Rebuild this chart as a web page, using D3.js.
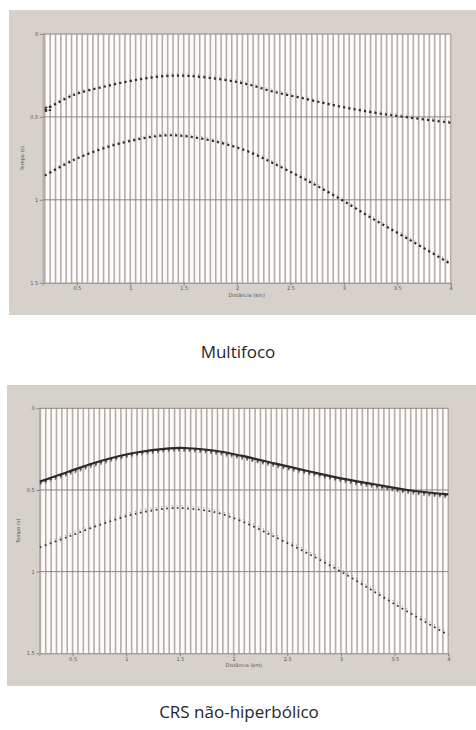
<!DOCTYPE html>
<html>
<head>
<meta charset="utf-8">
<script src="https://cdn.jsdelivr.net/npm/d3@7"></script>
<style>
  html, body { margin: 0; padding: 0; background: #fff; }
  svg { display: block; }
</style>
</head>
<body>
<svg id="chart" width="476" height="730"></svg>
<script>
// ---------- data ----------
const xTicks = [0.5, 1, 1.5, 2, 2.5, 3, 3.5, 4];
const xTickLabels = ["0.5", "1", "1.5", "2", "2.5", "3", "3.5", "4"];
const yTicks = [0, 0.5, 1, 1.5];
const yTickLabels = ["0", "0.5", "1", "1.5"];
const traceStep = 0.05;          // trace spacing (km)
const traceStart = 0.2;
const traceEnd = 4.0;

// Multifoco (top panel)
const mfDist  = [0.2, 0.47, 0.78, 1.09, 1.34, 1.55, 1.84, 2.09, 2.34, 2.66, 2.97, 3.28, 3.59, 4.0];
const mfUpper = [0.458, 0.368, 0.314, 0.273, 0.253, 0.253, 0.273, 0.302, 0.348, 0.394, 0.438, 0.474, 0.502, 0.535];
const mfLower = [0.854, 0.760, 0.683, 0.633, 0.611, 0.619, 0.655, 0.705, 0.780, 0.885, 0.997, 1.118, 1.232, 1.387];
// short extra event marks near the left end of the upper Multifoco curve
const mfExtraDist = [0.2, 0.26];
const mfExtraVals = [0.445, 0.438];

// CRS não-hiperbólico (bottom panel)
const crsDist  = [0.195, 0.46, 0.77, 1.08, 1.40, 1.55, 1.83, 2.07, 2.38, 2.69, 3.0, 3.31, 3.62, 4.0];
const crsUpper = [0.449, 0.388, 0.321, 0.272, 0.245, 0.243, 0.260, 0.290, 0.337, 0.384, 0.429, 0.465, 0.500, 0.527];
const crsLower = [0.851, 0.786, 0.710, 0.647, 0.612, 0.612, 0.637, 0.690, 0.786, 0.888, 1.000, 1.123, 1.245, 1.388];

const titles = ["Multifoco", "CRS não-hiperbólico"];

// ---------- drawing ----------
const svg = d3.select("#chart");

function drawPanel(cfg) {
  const g = svg.append("g");
  // gray panel
  g.append("rect")
    .attr("x", cfg.bg[0]).attr("y", cfg.bg[1])
    .attr("width", cfg.bg[2]).attr("height", cfg.bg[3])
    .attr("fill", "#d7d1cc");

  const x = d3.scaleLinear().domain(cfg.xDomain).range(cfg.xRange);
  const y = d3.scaleLinear().domain([0, 1.5]).range(cfg.yRange);

  // plot area
  g.append("rect")
    .attr("x", cfg.xRange[0]).attr("y", cfg.yRange[0])
    .attr("width", cfg.xRange[1] - cfg.xRange[0])
    .attr("height", cfg.yRange[1] - cfg.yRange[0])
    .attr("fill", "#fdfcfb");

  // trace lines
  const traces = d3.range(Math.round((traceEnd - traceStart) / traceStep) + 1)
    .map(i => traceStart + i * traceStep);
  g.append("g").selectAll("line").data(traces).join("line")
    .attr("x1", d => x(d)).attr("x2", d => x(d))
    .attr("y1", cfg.yRange[0]).attr("y2", cfg.yRange[1])
    .attr("stroke", "#b6aca8").attr("stroke-width", 1.6);

  // left strip of the plot
  g.append("line")
    .attr("x1", cfg.xRange[0] + 0.5).attr("x2", cfg.xRange[0] + 0.5)
    .attr("y1", cfg.yRange[0]).attr("y2", cfg.yRange[1])
    .attr("stroke", "#b3aaa6").attr("stroke-width", 1.5);

  // horizontal reference lines at 0, 0.5, 1
  g.append("g").selectAll("line").data([0, 0.5, 1]).join("line")
    .attr("x1", cfg.xRange[0]).attr("x2", cfg.xRange[1])
    .attr("y1", d => y(d)).attr("y2", d => y(d))
    .attr("stroke", "#8e8580").attr("stroke-width", 1);

  // x axis
  const xAxis = d3.axisBottom(x).tickValues(xTicks)
    .tickFormat((d, i) => xTickLabels[i]).tickSize(3).tickPadding(1);
  const xa = g.append("g").attr("transform", `translate(0,${cfg.yRange[1]})`).call(xAxis);
  xa.select(".domain").attr("stroke", "#8e8580");
  xa.selectAll(".tick line").attr("stroke", "#8e8580");
  xa.selectAll("text").attr("font-size", 5).attr("fill", "#555").attr("font-family", "DejaVu Sans");

  // y axis
  const yAxis = d3.axisLeft(y).tickValues(yTicks)
    .tickFormat((d, i) => yTickLabels[i]).tickSize(3).tickPadding(1.5);
  const ya = g.append("g").attr("transform", `translate(${cfg.xRange[0]},0)`).call(yAxis);
  ya.select(".domain").attr("stroke", "none");
  ya.selectAll(".tick line").attr("stroke", "#8e8580");
  ya.selectAll("text").attr("font-size", 5).attr("fill", "#555").attr("font-family", "DejaVu Sans");

  // axis titles
  g.append("text")
    .attr("x", (cfg.xRange[0] + cfg.xRange[1]) / 2)
    .attr("y", cfg.yRange[1] + 14)
    .attr("text-anchor", "middle")
    .attr("font-size", 5).attr("fill", "#555").attr("font-family", "DejaVu Sans")
    .text("Distância (km)");
  g.append("text")
    .attr("transform", `translate(${cfg.xRange[0] - 19},${(cfg.yRange[0] + cfg.yRange[1]) / 2}) rotate(-90)`)
    .attr("text-anchor", "middle")
    .attr("font-size", 5).attr("fill", "#555").attr("font-family", "DejaVu Sans")
    .text("Tempo (s)");

  const line = (dist, vals, dt) => d3.line()
    .x((d, i) => x(dist[i]))
    .y(d => y(d + dt))
    .curve(d3.curveCatmullRom)(vals);

  cfg.series.forEach(s => {
    g.append("path")
      .attr("d", line(s.dist, s.vals, s.dt || 0))
      .attr("fill", "none")
      .attr("stroke", s.color)
      .attr("stroke-width", s.width)
      .attr("stroke-dasharray", s.dash || null);
  });

  // title
  g.append("text")
    .attr("x", cfg.titlePos[0]).attr("y", cfg.titlePos[1])
    .attr("text-anchor", "middle")
    .attr("font-size", 17).attr("fill", "#262626")
    .attr("font-family", "Open Sans, sans-serif")
    .text(cfg.title);
}

drawPanel({
  bg: [9, 10, 467, 305],
  xDomain: [0.18, 4.0], xRange: [42.7, 450.7], yRange: [34, 282.7],
  title: titles[0], titlePos: [238, 358],
  series: [
    { dist: mfDist, vals: mfUpper, dt: -0.012, color: "#b0a8a4", width: 1.2, dash: "1,4.3" },
    { dist: mfDist, vals: mfUpper, color: "#2b2b2b", width: 2.2, dash: "2.2,3.1" },
    { dist: mfExtraDist, vals: mfExtraVals, color: "#2b2b2b", width: 1.6, dash: "2.5,1.5" },
    { dist: mfExtraDist, vals: mfExtraVals, dt: 0.02, color: "#2b2b2b", width: 1.6, dash: "2.5,1.5" },
    { dist: mfDist, vals: mfLower, dt: -0.012, color: "#b0a8a4", width: 1.2, dash: "1,4.3" },
    { dist: mfDist, vals: mfLower, color: "#2b2b2b", width: 2.2, dash: "2.2,3.1" }
  ]
});

drawPanel({
  bg: [7, 385, 469, 301],
  xDomain: [0.19, 4.0], xRange: [39.3, 448.3], yRange: [408.3, 653.3],
  title: titles[1], titlePos: [239, 718],
  series: [
    { dist: crsDist, vals: crsUpper, dt: 0.02, color: "#8a827e", width: 1.4, dash: "1.6,3.7" },
    { dist: crsDist, vals: crsUpper, dt: 0.01, color: "#444", width: 1.8, dash: "2,3.3" },
    { dist: crsDist, vals: crsUpper, color: "#2a2a2a", width: 2.2 },
    { dist: crsDist, vals: crsLower, dt: -0.015, color: "#a39b97", width: 1.2, dash: "1,4.3" },
    { dist: crsDist, vals: crsLower, color: "#3a3a3a", width: 1.8, dash: "1.8,3.5" }
  ]
});
</script>
</body>
</html>
